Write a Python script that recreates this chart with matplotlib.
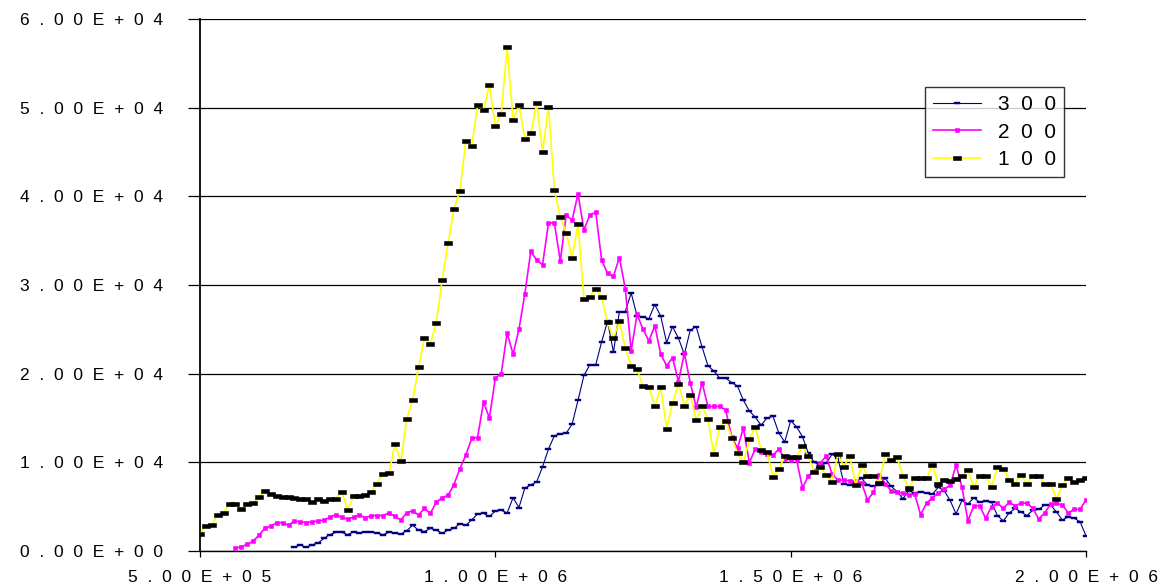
import numpy as np
import matplotlib
matplotlib.use('Agg')
import matplotlib.pyplot as plt

plt.rcParams['font.family'] = ['Liberation Sans', 'DejaVu Sans']

# x sampling grid of the sweep (5e5 .. 2e6, step 1e4)
x_all = np.arange(5.0e5, 2.0e6 + 1, 1.0e4)

# series "100" (black squares on yellow), from 5e5
y100 = [1900, 2800, 2900, 4100, 4300, 5300, 5300, 4700, 5300, 5400,
        6100, 6800, 6400, 6200, 6100, 6100, 6000, 5900, 5900, 5500,
        5900, 5600, 5900, 5900, 6700, 4600, 6200, 6200, 6300, 6600,
        7600, 8700, 8800, 12100, 10100, 14900, 17000, 20700, 24000, 23400,
        25700, 30600, 34700, 38600, 40600, 46200, 45700, 50300, 49700, 52600,
        47900, 49300, 56800, 48600, 50300, 46500, 47100, 50500, 45000, 50100,
        40700, 37700, 35900, 33100, 36900, 28400, 28700, 29600, 28600, 25800,
        24000, 25900, 22900, 20900, 20500, 18600, 18500, 16300, 18500, 13800,
        16700, 18800, 16400, 17600, 14800, 16300, 14900, 10900, 14000, 14700,
        12800, 11000, 10000, 12600, 14000, 11400, 11200, 8400, 9200, 10700,
        10600, 10600, 11800, 10700, 8900, 9500, 8600, 7800, 10900, 9500,
        10700, 7400, 9700, 8500, 8500, 7700, 10900, 10300, 10600, 8500,
        7100, 8200, 8200, 8200, 9700, 7600, 8000, 7900, 8100, 8500,
        9100, 7200, 8500, 8500, 7200, 9500, 9300, 8000, 7600, 8600,
        7600, 8500, 8500, 7600, 7600, 5900, 7400, 8200, 7800, 8000,
        8200]

# series "200" (magenta), from 5.6e5
y200 = [300, 500, 750, 1100,
        1800, 2600, 2800, 3200, 3200, 2900, 3400, 3300, 3200, 3300,
        3400, 3500, 3800, 4100, 3800, 3600, 3800, 4100, 3700, 4000,
        4000, 4000, 4300, 3900, 3500, 4300, 4550, 4060, 4800, 4250,
        5500, 6000, 6300, 7500, 9300, 10800, 12700, 12800, 16800, 15000,
        19500, 20000, 24600, 22200, 25000, 29000, 33800, 32800, 32300, 37000,
        37000, 32700, 37900, 37300, 40300, 36200, 37900, 38200, 32800, 31300,
        31000, 33100, 29600, 22600, 26700, 25000, 23700, 25400, 22200, 20900,
        21800, 19100, 22300, 19000, 16200, 19000, 16300, 16300, 16300, 15900,
        12900, 11600, 13900, 9960, 11500, 11200, 10900, 10800, 11500, 10400,
        10300, 10300, 7100, 8500, 9000, 9900, 10700, 8700, 8000, 8000,
        7900, 7900, 7700, 5750, 6600, 8600, 7600, 6800, 6600, 6500,
        6300, 6400, 4100, 5400, 6000, 6500, 7000, 7400, 9700, 7200,
        3400, 5100, 5100, 3700, 5000, 5400, 4800, 5500, 5100, 5400,
        5400, 4800, 3600, 4300, 5300, 5400, 5200, 4300, 4700, 4700,
        5800]

# series "300" (navy), from 6.6e5
y300 = [420, 680, 400, 700,
        900, 1430, 1850, 2100, 2100, 1850, 2150, 2050, 2150, 2150,
        2000, 1850, 2100, 2050, 1900, 2300, 2900, 2350, 2200, 2550,
        2350, 2000, 2350, 2550, 3100, 2900, 3500, 4200, 4250, 3900,
        4500, 4600, 4300, 6000, 4900, 7100, 7450, 7800, 9500, 11500,
        13000, 13200, 13300, 14300, 17000, 19800, 21000, 21000, 23600, 25900,
        22400, 27000, 27000, 29100, 26500, 26400, 26200, 27800, 26500, 23500,
        25300, 24000, 22200, 24900, 25300, 23000, 20900, 20300, 19500, 19500,
        19000, 18600, 17000, 15800, 15100, 14200, 15000, 15200, 13300, 12300,
        14700, 14000, 12900, 11000, 10000, 9700, 9900, 10900, 10500, 7600,
        7450, 7800, 8200, 7450, 7300, 7500, 8200, 7300, 6700, 5900,
        6800, 6550, 6700, 6500, 6400, 7200, 6800, 5700, 4200, 5700,
        5300, 6000, 5500, 5600, 5500, 4000, 3400, 4300, 4800, 4400,
        4000, 4600, 4700, 5200, 5200, 4400, 3500, 3850, 3700, 3300,
        1700]

labels = ['300', '200', '100']
y_ticks = [0, 1e4, 2e4, 3e4, 4e4, 5e4, 6e4]
y_tick_labels = ['0.00E+00', '1.00E+04', '2.00E+04', '3.00E+04',
                 '4.00E+04', '5.00E+04', '6.00E+04']
x_ticks = [5e5, 1e6, 1.5e6, 2e6]
x_tick_labels = ['5.00E+05', '1.00E+06', '1.50E+06', '2.00E+06']


def spaced(s, gap='  '):
    # the original chart prints its numbers with wide letter spacing
    return gap.join(s)


x100 = x_all
x200 = x_all[len(x_all) - len(y200):]
x300 = x_all[len(x_all) - len(y300):]

rect = [(-1, -0.42), (1, -0.42), (1, 0.42), (-1, 0.42), (-1, -0.42)]

fig = plt.figure(figsize=(11.64, 5.87), dpi=100)
ax = fig.add_axes([0.1718, 0.0613, 0.7612, 0.9063])

ax.plot(x300, y300, color='#000080', lw=0.8, marker=rect, ms=4, mew=0.3,
        mfc='#000080', mec='#000080', label=spaced(labels[0]), zorder=3)
ax.plot(x200, y200, color='#FF00FF', lw=1.2, marker='s', ms=2.6, mew=0.4,
        mfc='#FF00FF', mec='#FF00FF', label=spaced(labels[1]), zorder=4)
ax.plot(x100, y100, color='#FFFF00', lw=1.2, marker=rect, ms=6.3, mew=0.4,
        mfc='black', mec='black', label=spaced(labels[2]), zorder=5)

ax.set_xlim(5e5, 2e6)
ax.set_ylim(0, 6e4)

ax.set_yticks(y_ticks)
ax.set_yticklabels([spaced(t) for t in y_tick_labels], fontsize=12.5)
ax.set_xticks(x_ticks)
ax.set_xticklabels([spaced(t) for t in x_tick_labels], fontsize=12.5)

ax.yaxis.grid(True, color='black', lw=0.9)
ax.set_axisbelow(True)
ax.tick_params(axis='y', direction='out', length=8.6, width=0.9, pad=18)
ax.tick_params(axis='x', direction='out', length=4.5, width=0.9, pad=9)

for s in ['top', 'right']:
    ax.spines[s].set_visible(False)
ax.spines['left'].set_linewidth(1.3)
ax.spines['bottom'].set_linewidth(1.0)

leg = ax.legend(loc='upper left', bbox_to_anchor=(0.818, 0.872),
                fontsize=15, frameon=True, fancybox=False, handlelength=2.3,
                handletextpad=0.8, labelspacing=0.4, borderpad=0.4,
                borderaxespad=0)
leg.get_frame().set_edgecolor('black')
leg.get_frame().set_linewidth(1.0)

fig.savefig('out.png', dpi=100)
